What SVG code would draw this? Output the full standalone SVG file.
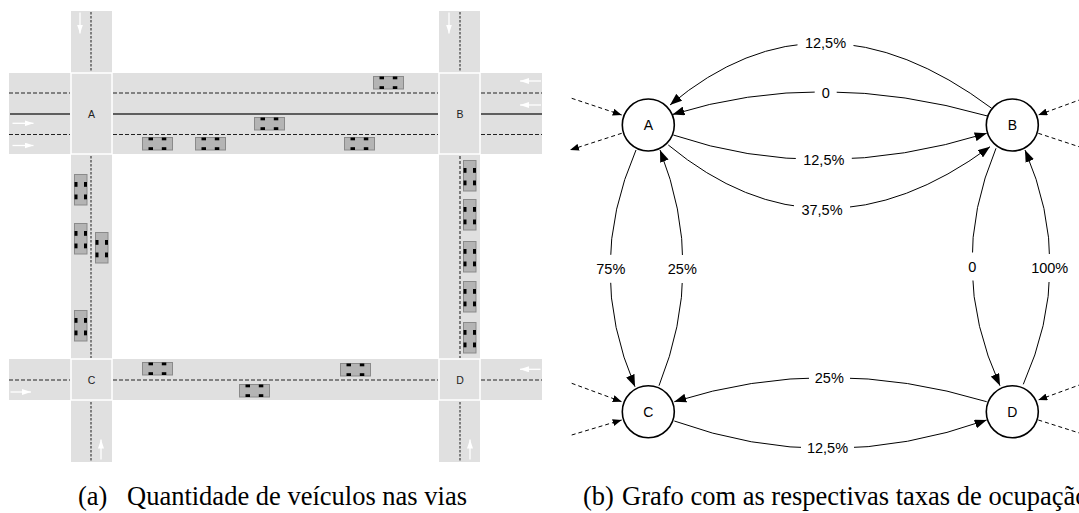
<svg xmlns="http://www.w3.org/2000/svg" xmlns:xlink="http://www.w3.org/1999/xlink" width="1079" height="513" viewBox="0 0 1079 513">
<style>
.road{fill:#e0e0e0}
.inter{fill:#e0e0e0;stroke:#fff;stroke-width:1.5}
.dash{stroke:#222;stroke-width:1;stroke-dasharray:4 2;fill:none}
.solid{stroke:#333;stroke-width:1.5;fill:none}
.vdash{stroke:#666;stroke-width:1.6;stroke-dasharray:2.5 1.5;fill:none}
.vdashk{stroke:#111;stroke-width:1;stroke-dasharray:3 2;fill:none}
.warr{stroke:#fff;stroke-width:1.3;fill:none;marker-end:url(#wa)}
.mlbl{font-family:"Liberation Sans",Arial,sans-serif;font-size:10.5px;fill:#222;text-anchor:middle}
.edge{stroke:#000;stroke-width:1;fill:none;marker-end:url(#ar)}
.ext{stroke:#000;stroke-width:1;stroke-dasharray:4 3;fill:none;marker-end:url(#ard)}
.node{fill:#fff;stroke:#000;stroke-width:1.6}
.nlbl{font-family:"Liberation Sans",Arial,sans-serif;font-size:14px;fill:#000;text-anchor:middle}
.elbl{font-family:"Liberation Sans",Arial,sans-serif;font-size:14.5px;fill:#000;text-anchor:middle}
.bg{fill:#fff}
.cap{font-family:"Liberation Serif","Times New Roman",serif;font-size:26.5px;fill:#000}
.car{fill:#b4b4b4;stroke:#8a8a8a;stroke-width:1}
.wh{fill:#000}
</style>
<defs>
<marker id="ar" markerWidth="12" markerHeight="9" refX="12" refY="4.5" orient="auto" markerUnits="userSpaceOnUse"><path d="M0,0 L12,4.5 L0,9 z" fill="#000"/></marker>
<marker id="ard" markerWidth="9" markerHeight="7" refX="9" refY="3.5" orient="auto" markerUnits="userSpaceOnUse"><path d="M0,0 L9,3.5 L0,7 z" fill="#000"/></marker>
<marker id="wa" markerWidth="9" markerHeight="6" refX="9" refY="3" orient="auto" markerUnits="userSpaceOnUse"><path d="M0,0 L9,3 L0,6 z" fill="#fff"/></marker>
<g id="carH">
<rect class="car" x="0.5" y="0.5" width="30" height="12.5"/>
<rect class="wh" x="6.5" y="0.5" width="4.5" height="2.8"/>
<rect class="wh" x="19.8" y="0.5" width="4.5" height="2.8"/>
<rect class="wh" x="6.5" y="10.2" width="4.5" height="2.8"/>
<rect class="wh" x="19.8" y="10.2" width="4.5" height="2.8"/>
</g>
<g id="carV">
<rect class="car" x="0.5" y="0.5" width="12.5" height="30.5"/>
<rect class="wh" x="0.5" y="8" width="3" height="4.8"/>
<rect class="wh" x="10" y="8" width="3" height="4.8"/>
<rect class="wh" x="0.5" y="20.5" width="3" height="4.8"/>
<rect class="wh" x="10" y="20.5" width="3" height="4.8"/>
</g>
</defs>
<rect width="1079" height="513" fill="#fff"/>

<g id="roadmap">
<rect class="road" x="71" y="11" width="41" height="451"/>
<rect class="road" x="439" y="11" width="41" height="451"/>
<rect class="road" x="9" y="73" width="533" height="81"/>
<rect class="road" x="9" y="359" width="533" height="41"/>
<rect class="inter" x="71" y="73" width="41" height="81"/>
<rect class="inter" x="439" y="73" width="41" height="81"/>
<rect class="inter" x="71" y="359" width="41" height="41"/>
<rect class="inter" x="439" y="359" width="41" height="41"/>

<path class="dash" d="M9,93 H70 M113,93 H438 M481,93 H542"/>
<path class="solid" d="M10,114 H70 M113,114 H438 M481,114 H542"/>
<path class="dash" d="M9,134.5 H70 M113,134.5 H438 M481,134.5 H542"/>
<path class="dash" d="M9,380 H70 M113,380 H438 M481,380 H542"/>
<path class="vdash" d="M91,12 V72 M91,156 V358 M91,402 V462"/>
<path class="vdash" d="M460,12 V72 M460,402 V462"/>
<path class="vdashk" d="M460,156 V358"/>

<path class="warr" d="M80,12.5 V33.5"/>
<path class="warr" d="M449,12.5 V33.5"/>
<path class="warr" d="M101,459.5 V439.5"/>
<path class="warr" d="M470,459.5 V439.5"/>
<path class="warr" d="M12.5,123.3 H33.5"/>
<path class="warr" d="M12.5,145.5 H33.5"/>
<path class="warr" d="M541,81 H520"/>
<path class="warr" d="M541,105 H520"/>
<path class="warr" d="M10.5,392 H31"/>
<path class="warr" d="M540.5,369.3 H520"/>

<text class="mlbl" x="91.5" y="117.8">A</text>
<text class="mlbl" x="460" y="117.8">B</text>
<text class="mlbl" x="91.5" y="383.8">C</text>
<text class="mlbl" x="460" y="383.8">D</text>

<use xlink:href="#carH" href="#carH" x="142" y="137"/>
<use xlink:href="#carH" href="#carH" x="195" y="137"/>
<use xlink:href="#carH" href="#carH" x="254" y="117"/>
<use xlink:href="#carH" href="#carH" x="373" y="76"/>
<use xlink:href="#carH" href="#carH" x="344" y="137"/>
<use xlink:href="#carH" href="#carH" x="142" y="362"/>
<use xlink:href="#carH" href="#carH" x="239" y="384"/>
<use xlink:href="#carH" href="#carH" x="340" y="363"/>

<use xlink:href="#carV" href="#carV" x="74" y="174"/>
<use xlink:href="#carV" href="#carV" x="74" y="223"/>
<use xlink:href="#carV" href="#carV" x="95" y="232"/>
<use xlink:href="#carV" href="#carV" x="74" y="310"/>
<use xlink:href="#carV" href="#carV" x="463" y="160"/>
<use xlink:href="#carV" href="#carV" x="463" y="199"/>
<use xlink:href="#carV" href="#carV" x="463" y="241"/>
<use xlink:href="#carV" href="#carV" x="463" y="281"/>
<use xlink:href="#carV" href="#carV" x="463" y="322"/>
</g>

<g id="connectors">
<path class="edge" d="M991.7,108.3 Q819.2,-20.6 670,105"/>
<path class="edge" d="M987.5,116 Q820.25,68.25 672.5,114.5"/>
<path class="edge" d="M673.3,135 Q820,184.85 986.7,133.3"/>
<path class="edge" d="M668.3,145 Q820.85,271.15 990,146.7"/>
<path class="edge" d="M636,150 Q584.5,268.3 635,386.7"/>
<path class="edge" d="M659,385.7 Q706.5,267.85 660,150"/>
<path class="edge" d="M996,148.3 Q946,267 1000,385.7"/>
<path class="edge" d="M1023.3,384.3 Q1075.8,267 1025,150"/>
<path class="edge" d="M986.7,401.7 Q827.5,353.3 674.3,401.7"/>
<path class="edge" d="M674.3,421 Q827.5,476.5 986.7,420"/>

<path class="ext" d="M571.7,98.3 L621.7,115"/>
<path class="ext" d="M621.7,133.3 L570,150"/>
<path class="ext" d="M1082,99 L1038.3,115"/>
<path class="ext" d="M1038.3,133.3 L1095,152" style="marker-end:none"/>
<path class="ext" d="M571.7,383.3 L621.7,401.7"/>
<path class="ext" d="M571.7,435 L621.7,420"/>
<path class="ext" d="M1082,384 L1038.3,400"/>
<path class="ext" d="M1038.3,420 L1095,438" style="marker-end:none"/>

<rect class="bg" x="797.5" y="35" width="56" height="16"/>
<text class="elbl" x="825.5" y="48.3">12,5%</text>
<rect class="bg" x="814.7" y="84.5" width="22" height="16"/>
<text class="elbl" x="825.7" y="97.7">0</text>
<rect class="bg" x="795.8" y="151.8" width="56" height="16"/>
<text class="elbl" x="823.8" y="165">12,5%</text>
<rect class="bg" x="794" y="201.8" width="56" height="16"/>
<text class="elbl" x="822" y="215">37,5%</text>
<rect class="bg" x="594.3" y="254.8" width="33" height="28"/>
<text class="elbl" x="610.8" y="274">75%</text>
<rect class="bg" x="665.8" y="255" width="33" height="28"/>
<text class="elbl" x="682.3" y="274.3">25%</text>
<rect class="bg" x="963.3" y="252.5" width="18" height="28"/>
<text class="elbl" x="972.3" y="271.7">0</text>
<rect class="bg" x="1029.2" y="254" width="41" height="28"/>
<text class="elbl" x="1049.7" y="273.3">100%</text>
<rect class="bg" x="809" y="370" width="41" height="16"/>
<text class="elbl" x="829.3" y="383.3">25%</text>
<rect class="bg" x="801" y="440" width="53" height="16"/>
<text class="elbl" x="827.5" y="453.3">12,5%</text>
</g>

<g id="node-A"><circle class="node" cx="648.3" cy="125" r="26"/><text class="nlbl" x="648.3" y="130">A</text></g>
<g id="node-B"><circle class="node" cx="1012.3" cy="125" r="26"/><text class="nlbl" x="1012.3" y="130">B</text></g>
<g id="node-C"><circle class="node" cx="648.3" cy="411.7" r="26"/><text class="nlbl" x="648.3" y="416.7">C</text></g>
<g id="node-D"><circle class="node" cx="1012.3" cy="411.7" r="26"/><text class="nlbl" x="1012.3" y="416.7">D</text></g>

<g id="captions">
<text class="cap" x="78" y="505">(a)</text>
<text class="cap" x="127" y="505">Quantidade de veículos nas vias</text>
<text class="cap" x="583" y="505">(b)</text>
<text class="cap" x="622" y="505">Grafo com as respectivas taxas de ocupação</text>
</g>
</svg>
